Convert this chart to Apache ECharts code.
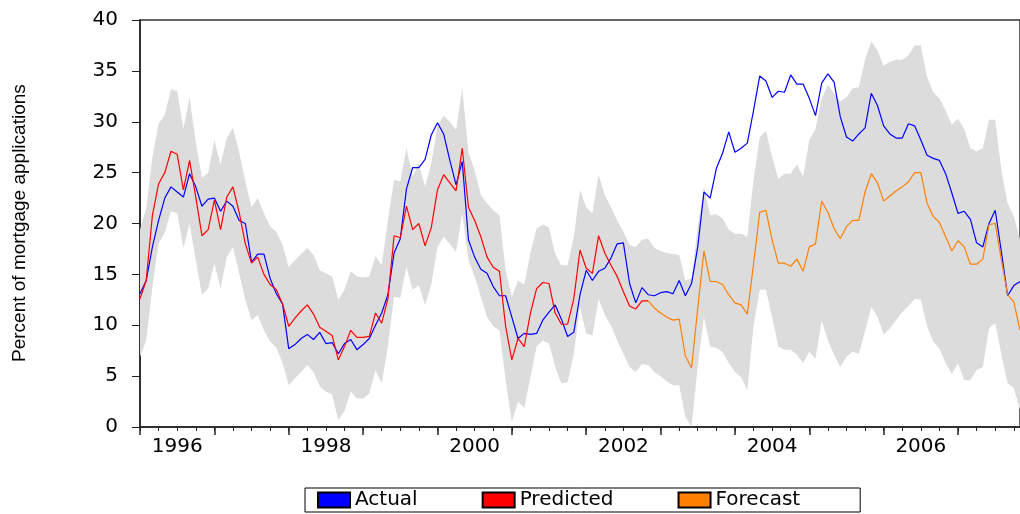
<!DOCTYPE html>
<html><head><meta charset="utf-8">
<script src="https://cdn.jsdelivr.net/npm/echarts@6/dist/echarts.min.js"></script>
<style>html,body{margin:0;padding:0;background:#fff}#c{width:1020px;height:514px}</style>
</head><body><div id="c"></div>
<script>
// monthly, Jan 1996 .. Nov 2007
const years = ['1996','1998','2000','2002','2004','2006'];
const actual = [13.1,14.4,17.7,20.3,22.5,23.6,23.1,22.6,24.9,23.6,21.7,22.4,22.5,21.2,22.2,21.7,20.3,20.0,16.2,17.0,17.0,14.6,13.1,12.1,7.7,8.1,8.7,9.1,8.6,9.3,8.2,8.3,7.2,8.2,8.6,7.6,8.1,
8.7,10.0,11.2,13.0,17.1,18.5,23.4,25.5,25.5,26.3,28.7,29.9,28.8,26.2,23.8,26.1,18.4,16.7,15.5,15.1,13.8,12.9,12.9,10.8,8.7,9.2,9.1,9.2,10.5,11.3,12.0,10.6,8.9,9.3,13.0,
15.4,14.4,15.3,15.6,16.6,18.0,18.1,14.1,12.2,13.7,13.0,12.9,13.2,13.3,13.1,14.4,12.9,14.1,17.7,23.1,22.5,25.4,26.9,29.0,27.0,27.4,27.9,31.1,34.5,34.0,32.4,33.0,32.9,34.6,33.7,33.7,
32.3,30.6,33.8,34.7,33.9,30.5,28.5,28.1,28.8,29.4,32.8,31.6,29.6,28.8,28.4,28.4,29.8,29.6,28.2,26.7,26.4,26.2,24.9,23.0,21.0,21.2,20.4,18.1,17.7,20.0,21.3,17.2,12.9,13.9,14.3];
const predicted = [12.6,14.4,20.8,23.9,25.0,27.1,26.8,23.3,26.2,22.6,18.8,19.4,22.3,19.4,22.6,23.6,21.1,18.0,16.1,16.7,15.0,14.0,13.5,12.1,9.9,10.7,11.4,12.0,11.1,9.8,9.4,9.0,6.6,7.9,9.5,8.8,8.8,
8.9,11.2,10.2,12.6,18.8,18.6,21.7,19.4,20.0,17.8,19.6,23.3,24.8,24.0,23.2,27.4,21.6,20.3,18.7,16.7,15.7,15.3,9.9,6.6,8.7,7.9,11.2,13.6,14.2,14.1,11.2,10.1,10.1,12.6,17.4,
15.6,15.1,18.8,17.1,15.9,14.8,13.3,11.9,11.6,12.4,12.4];
const forecast = [12.4,11.7,11.2,10.8,10.5,10.6,7.0,5.8,11.7,17.3,14.3,14.3,14.0,13.0,12.2,12.0,11.1,16.0,21.1,21.3,18.4,16.1,16.1,15.8,16.5,15.3,
17.7,18.0,22.2,21.1,19.5,18.5,19.7,20.3,20.3,23.1,24.9,24.0,22.2,22.7,23.2,23.6,24.1,25.0,25.0,22.0,20.7,20.1,18.7,17.3,18.3,17.7,16.0,16.0,16.5,19.9,20.0,16.4,13.0,12.3,9.5];
const forecastStart = 82;
const upper = [19.4,21.5,26.5,29.8,30.7,33.2,33.0,29.3,32.4,28.0,24.5,25.0,28.2,25.8,28.4,29.4,27.0,24.1,21.6,22.5,21.0,19.7,19.2,17.9,15.7,16.4,17.0,17.6,16.9,15.4,15.1,14.8,12.5,13.5,15.3,14.8,14.7,
14.8,16.8,15.9,20.3,24.3,24.1,27.4,24.6,25.9,23.6,25.9,29.6,30.6,30.0,29.2,33.3,27.0,25.2,22.8,22.0,21.3,20.8,15.4,12.8,14.4,14.0,17.1,19.5,19.9,19.6,17.0,15.9,15.9,18.7,23.3,
21.6,21.0,24.8,22.8,21.6,20.3,19.2,17.9,17.7,18.4,18.5,17.6,17.3,17.1,17.0,16.9,14.4,14.6,19.7,23.6,20.8,20.9,20.5,19.4,19.0,19.0,18.7,24.3,28.5,29.1,26.5,24.4,24.9,24.9,25.8,24.6,
28.2,29.3,32.3,33.6,32.8,32.0,32.4,33.3,33.4,36.1,37.9,37.0,35.5,35.9,36.1,36.1,36.5,37.5,37.5,34.4,32.9,32.3,31.1,29.7,30.3,29.3,27.4,27.1,27.4,30.2,30.2,25.2,22.0,20.7,18.5];
const lower = [6.9,8.5,13.8,18.0,19.1,21.2,21.0,17.6,20.0,16.4,13.0,13.6,16.1,13.6,16.7,17.7,15.1,12.5,10.5,11.0,9.5,8.4,7.8,6.3,4.1,4.8,5.4,6.1,5.4,4.0,3.5,3.2,0.7,1.6,3.5,2.8,2.8,
3.3,5.6,4.3,7.9,12.8,12.7,15.7,13.5,13.9,12.0,14.0,17.7,18.7,18.0,17.2,21.0,16.4,14.8,12.8,10.8,9.9,9.5,4.6,0.5,2.5,1.9,4.9,7.9,8.5,8.2,5.9,4.3,4.4,7.2,11.8,
9.2,9.0,12.6,11.0,10.0,8.5,7.2,5.9,5.4,6.2,6.1,5.4,5.0,4.5,4.1,4.1,1.0,0,6.0,10.8,7.9,7.8,7.4,6.3,5.4,4.9,3.6,9.9,13.5,13.5,10.8,7.9,7.6,7.6,7.1,6.3,
7.4,6.7,10.5,8.5,7.1,5.9,6.9,7.4,7.2,9.4,11.8,10.8,9.1,9.7,10.5,11.3,11.9,12.6,12.5,9.9,8.4,7.7,6.3,5.2,6.3,4.6,4.6,5.6,5.9,9.7,10.2,7.1,4.3,3.8,1.7];

const n = actual.length;
const cats = [];
for (let i = 0; i < n; i++) cats.push(String(1996 + Math.floor(i / 12)));
const bandW = upper.map((u, i) => +(u - lower[i]).toFixed(2));
const fc = new Array(n).fill('-');
forecast.forEach((v, k) => { fc[forecastStart + k] = v; });

const chart = echarts.init(document.getElementById('c'));
const base = {type:'category', data:cats, boundaryGap:false, gridIndex:0, position:'bottom'};
const F = 'DejaVu Sans';
chart.setOption({
  animation:false,
  grid:{left:140, right:0, top:20, bottom:87, show:true, borderColor:'#333', borderWidth:1.5},
  xAxis:[
    Object.assign({}, base, {
      axisLine:{lineStyle:{color:'#222', width:1.5}},
      axisTick:{interval:(i)=>i%12===0, length:8, lineStyle:{color:'#222', width:1.5}},
      axisLabel:{interval:(i)=>i%24===6, color:'#000', fontSize:20, fontFamily:F, margin:10,
        formatter:(v)=> years.indexOf(v) >= 0 ? v : ''}
    }),
    Object.assign({}, base, {
      axisLine:{show:false},
      axisTick:{interval:(i)=>i%3===0, length:4, lineStyle:{color:'#222'}},
      axisLabel:{show:false}
    })
  ],
  yAxis:{type:'value', min:0, max:40, interval:5,
    axisLine:{show:true, lineStyle:{color:'#222', width:1.5}},
    axisTick:{show:true, length:8, lineStyle:{color:'#222'}},
    axisLabel:{color:'#000', fontSize:20, fontFamily:F, margin:22},
    splitLine:{show:false}},
  legend:{bottom:2, left:305, itemWidth:32, itemHeight:15, itemGap:64, icon:'rect',
    borderColor:'#000', borderWidth:1, padding:[2,60,2,12],
    textStyle:{fontSize:20, fontFamily:F, color:'#000'},
    data:['Actual','Predicted','Forecast']},
  graphic:[{type:'text', rotation:Math.PI/2, x:10, y:362,
    style:{text:'Percent of mortgage applications', fontSize:19, fontFamily:'Liberation Sans', fill:'#000'}}],
  series:[
    {name:'lo', type:'line', stack:'band', data:lower, symbol:'none', lineStyle:{opacity:0}, silent:true},
    {name:'band', type:'line', stack:'band', data:bandW, symbol:'none', lineStyle:{opacity:0},
      areaStyle:{color:'#dcdcdc', opacity:1}, silent:true},
    {name:'Actual', type:'line', data:actual, symbol:'none', lineStyle:{color:'#0000ff', width:1.2},
      itemStyle:{color:'#0000ff', borderColor:'#000', borderWidth:1}},
    {name:'Predicted', type:'line', data:predicted, symbol:'none', lineStyle:{color:'#ff0000', width:1.2},
      itemStyle:{color:'#ff0000', borderColor:'#000', borderWidth:1}},
    {name:'Forecast', type:'line', data:fc, symbol:'none', lineStyle:{color:'#ff8000', width:1.2},
      itemStyle:{color:'#ff8000', borderColor:'#000', borderWidth:1}}
  ]
});
</script></body></html>
